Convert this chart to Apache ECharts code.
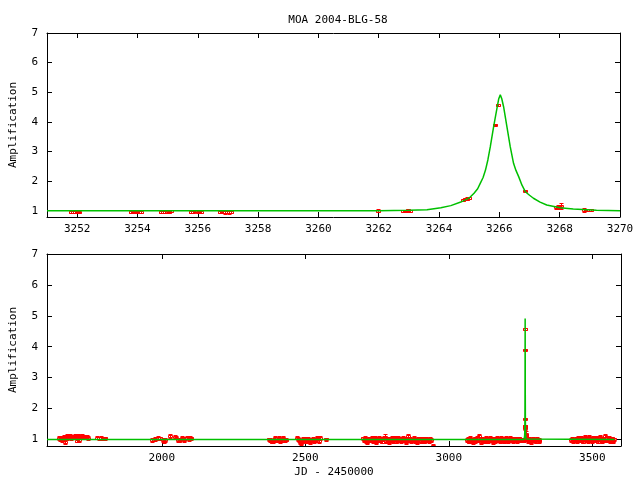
<!DOCTYPE html>
<html>
<head>
<meta charset="utf-8">
<script src="https://cdn.jsdelivr.net/npm/echarts@6/dist/echarts.min.js"></script>
<style>html,body{margin:0;padding:0;background:#fff}#c{width:640px;height:480px}</style>
</head>
<body>
<div id="c"></div>
<script>
// ---------- data ----------
var titleText = 'MOA 2004-BLG-58';
var xLabel = 'JD - 2450000';
var yLabel = 'Amplification';
var topXTicks = [3252, 3254, 3256, 3258, 3260, 3262, 3264, 3266, 3268, 3270];
var bottomXTicks = [2000, 2500, 3000, 3500];
var yTicks = [1, 2, 3, 4, 5, 6, 7];

// model light curve [JD, A]
var modelT = [3251, 3262, 3263, 3263.6, 3264.06, 3264.39, 3264.72, 3265.0, 3265.16, 3265.28, 3265.37, 3265.46, 3265.54, 3265.62, 3265.70, 3265.81, 3265.93, 3265.98, 3266.03, 3266.08, 3266.14, 3266.25, 3266.36, 3266.47, 3266.55, 3266.64, 3266.75, 3266.86, 3267.0, 3267.13, 3267.35, 3267.57, 3268.01, 3268.45, 3269.22, 3270];
var modelA = [1.00, 1.00, 1.01, 1.03, 1.10, 1.17, 1.29, 1.43, 1.59, 1.74, 1.93, 2.12, 2.37, 2.72, 3.16, 3.84, 4.51, 4.78, 4.91, 4.78, 4.51, 3.84, 3.16, 2.60, 2.36, 2.15, 1.86, 1.64, 1.52, 1.42, 1.29, 1.19, 1.10, 1.06, 1.01, 1.00];
var baselineStart = [1600, 1.00];
var baselineEnd = [3577, 1.00];

// 2004 event data [JD, A, err]
var eventPts = [
 [3251.78,0.96,0.04],[3251.85,0.97,0.04],[3251.92,0.97,0.05],[3251.98,0.98,0.04],[3252.03,0.97,0.05],[3252.07,0.97,0.04],
 [3253.80,0.96,0.04],[3253.87,0.97,0.04],[3253.93,0.97,0.05],[3254.00,0.98,0.05],[3254.06,0.97,0.04],[3254.11,0.97,0.04],
 [3254.78,0.95,0.04],[3254.85,0.96,0.04],[3254.92,0.97,0.04],[3255.00,0.98,0.05],[3255.05,0.97,0.04],[3255.10,0.98,0.04],
 [3255.78,0.96,0.04],[3255.85,0.97,0.04],[3255.92,0.98,0.04],[3256.00,0.97,0.04],[3256.04,0.98,0.05],[3256.09,0.97,0.04],
 [3256.75,0.96,0.04],[3256.82,0.95,0.04],[3256.90,0.94,0.04],[3256.97,0.95,0.04],[3257.03,0.94,0.04],[3257.10,0.95,0.04],
 [3261.98,1.00,0.04],
 [3262.82,1.00,0.03],[3262.90,1.00,0.03],[3262.98,1.01,0.03],[3263.05,1.00,0.03],
 [3264.78,1.36,0.04],[3264.85,1.39,0.04],[3264.92,1.41,0.04],[3264.98,1.43,0.04],
 [3265.86,3.90,0.02],[3265.96,4.57,0.02],
 [3266.85,1.67,0.02],
 [3267.88,1.11,0.05],[3267.95,1.12,0.06],[3268.00,1.10,0.05],[3268.05,1.16,0.10],
 [3268.82,1.02,0.08],[3268.90,1.03,0.04],[3268.97,1.02,0.04],[3269.05,1.02,0.04]
];

// earlier seasons [JD, A, err]
var season2000 = [[1643,1.04,0.06],[1647,1.01,0.06],[1651,1.06,0.06],[1654,0.97,0.07],[1657,1.05,0.06],[1660,1.08,0.06],[1663,0.93,0.07],[1665,1.07,0.06],[1668,1.10,0.06],[1671,1.04,0.06],[1673,1.09,0.05],[1676,1.06,0.06],[1679,1.11,0.06],[1682,1.07,0.05],[1685,1.03,0.06],[1687,1.08,0.06],[1690,1.05,0.05],[1693,1.09,0.06],[1696,1.12,0.06],[1698,1.07,0.05],[1701,1.10,0.06],[1704,0.96,0.06],[1706,1.08,0.05],[1709,1.13,0.06],[1711,1.06,0.06],[1713,0.98,0.06],[1716,1.10,0.05],[1719,1.08,0.06],[1721,1.12,0.06],[1724,1.05,0.05],[1727,1.09,0.06],[1730,1.07,0.06],[1733,1.10,0.05],[1736,1.06,0.06],[1739,1.08,0.06],[1742,1.05,0.06],
 [1775,1.06,0.06],[1780,1.04,0.05],[1789,1.05,0.06],[1797,1.03,0.06],[1802,1.04,0.05]];
var season2001 = [[1967,0.99,0.06],[1975,1.01,0.06],[1986,1.05,0.06],[1993,1.04,0.05],[2003,0.97,0.06],[2008,0.95,0.06],[2012,0.98,0.05],[2027,1.11,0.06],[2047,1.08,0.06],[2051,1.06,0.06],[2056,0.98,0.06],[2060,0.96,0.06],[2064,1.00,0.05],[2071,1.04,0.06],[2076,0.98,0.06],[2082,1.03,0.06],[2088,1.05,0.05],[2094,1.02,0.06],[2099,1.06,0.06],[2102,1.03,0.05]];
var season2002 = [[2372,1.00,0.06],[2376,0.98,0.06],[2380,0.97,0.05],[2384,0.93,0.06],[2388,0.95,0.06],[2392,0.97,0.06],[2396,1.04,0.06],[2400,0.96,0.06],[2404,0.99,0.05],[2408,1.05,0.06],[2412,0.94,0.06],[2416,0.97,0.06],[2420,0.95,0.05],[2424,1.04,0.06],[2428,0.98,0.06],[2432,0.99,0.05],
 [2472,1.06,0.06],[2475,1.02,0.06],[2478,0.98,0.06],[2482,0.92,0.07],[2485,0.88,0.06],[2488,0.95,0.06],[2492,1.01,0.06],[2495,0.96,0.05],[2499,1.02,0.06],[2502,0.93,0.06],[2506,0.98,0.06],[2510,1.02,0.05],[2513,0.95,0.06],[2517,0.92,0.06],[2520,0.99,0.06],[2524,0.96,0.05],[2528,1.01,0.06],[2532,0.94,0.06],[2536,0.97,0.06],[2540,1.05,0.06],[2544,1.02,0.05],[2548,0.95,0.06],[2552,1.04,0.06],[2572,1.01,0.05]];
var season2003 = [[2701,1.03,0.06],[2704,0.97,0.06],[2707,1.05,0.06],[2710,0.95,0.06],[2713,1.00,0.06],[2716,0.92,0.06],[2720,0.98,0.06],[2723,1.03,0.06],[2726,0.96,0.06],[2730,1.00,0.06],[2733,1.06,0.06],[2736,0.94,0.06],[2740,0.99,0.06],[2743,1.04,0.06],[2746,0.91,0.06],[2750,1.01,0.06],[2753,0.96,0.06],[2757,1.04,0.06],[2760,0.97,0.06],[2764,1.02,0.06],[2767,0.93,0.06],[2771,1.00,0.06],[2774,1.05,0.06],[2777,1.08,0.09],[2781,0.95,0.06],[2784,1.01,0.06],[2788,0.97,0.06],[2791,0.90,0.06],[2795,1.03,0.06],[2798,0.98,0.06],[2802,1.04,0.06],[2806,0.95,0.06],[2809,1.00,0.06],[2813,1.06,0.06],[2816,0.93,0.06],[2820,0.99,0.06],[2823,1.04,0.06],[2827,0.96,0.06],[2830,1.02,0.06],[2834,0.94,0.06],[2837,1.00,0.06],[2841,1.05,0.06],[2844,0.97,0.06],[2848,1.03,0.06],[2851,0.92,0.06],[2855,0.99,0.06],[2858,1.10,0.09],[2862,0.96,0.06],[2865,1.02,0.06],[2869,0.94,0.06],[2872,1.00,0.06],[2876,0.97,0.06],[2879,1.04,0.06],[2883,0.95,0.06],[2886,0.99,0.06],[2890,0.92,0.06],[2893,1.01,0.06],[2897,0.96,0.06],[2900,1.03,0.06],[2904,0.94,0.06],[2907,0.99,0.06],[2911,1.02,0.06],[2914,0.93,0.06],[2918,0.98,0.06],[2921,1.03,0.06],[2925,0.96,0.06],[2928,1.00,0.06],[2932,0.95,0.06],[2935,1.02,0.06],[2939,0.97,0.06],[2946,0.80,0.05]];
var season2004 = [[3063,0.97,0.06],[3066,1.02,0.06],[3069,0.93,0.06],[3072,0.99,0.06],[3075,1.04,0.06],[3078,0.95,0.06],[3081,1.00,0.06],[3084,0.91,0.06],[3087,0.97,0.06],[3090,1.03,0.06],[3093,0.94,0.06],[3096,0.99,0.06],[3099,1.05,0.06],[3103,0.96,0.06],[3105,1.10,0.09],[3108,1.01,0.06],[3111,0.92,0.06],[3114,0.98,0.06],[3117,1.03,0.06],[3120,0.95,0.06],[3123,1.00,0.06],[3126,0.93,0.06],[3129,1.04,0.06],[3132,0.97,0.06],[3135,1.01,0.06],[3138,0.94,0.06],[3141,0.99,0.06],[3144,1.05,0.06],[3147,0.96,0.06],[3150,1.02,0.06],[3153,0.92,0.06],[3156,0.98,0.06],[3159,1.03,0.06],[3162,0.95,0.06],[3165,1.00,0.06],[3168,1.06,0.06],[3171,0.97,0.06],[3174,1.01,0.06],[3177,0.94,0.06],[3180,0.99,0.06],[3183,1.04,0.06],[3186,0.96,0.06],[3189,1.02,0.06],[3192,0.93,0.06],[3195,0.98,0.06],[3198,1.05,0.06],[3201,0.97,0.06],[3204,1.01,0.06],[3207,0.95,0.06],[3210,1.00,0.06],[3213,1.04,0.06],[3216,0.96,0.06],[3219,0.99,0.06],[3222,1.03,0.06],[3225,0.94,0.06],[3228,1.00,0.06],[3231,0.97,0.06],[3234,1.02,0.06],[3237,0.95,0.06],[3240,1.01,0.06],[3243,0.98,0.06],[3246,1.03,0.06],[3249,0.96,0.06],
 [3272,1.00,0.06],[3276,0.95,0.06],[3279,1.02,0.06],[3283,0.97,0.06],[3287,0.92,0.06],[3290,0.99,0.06],[3294,1.03,0.06],[3297,0.96,0.06],[3301,0.98,0.06],[3305,0.93,0.06],[3309,1.01,0.06],[3313,0.97,0.06],[3316,0.94,0.06]];
var season2005 = [[3427,0.98,0.06],[3430,1.02,0.06],[3433,0.95,0.06],[3436,1.00,0.06],[3439,0.97,0.06],[3442,1.03,0.06],[3445,0.94,0.06],[3448,0.99,0.06],[3451,1.05,0.06],[3454,0.96,0.06],[3457,1.01,0.06],[3460,1.06,0.06],[3463,0.97,0.06],[3466,1.02,0.06],[3469,0.93,0.06],[3472,1.00,0.06],[3475,1.07,0.06],[3478,0.98,0.06],[3481,1.03,0.06],[3484,0.95,0.06],[3487,1.01,0.06],[3490,1.08,0.06],[3493,0.97,0.06],[3496,1.02,0.06],[3499,0.94,0.06],[3502,1.04,0.06],[3505,0.99,0.06],[3508,1.06,0.06],[3511,0.96,0.06],[3514,1.01,0.06],[3517,1.05,0.06],[3520,0.93,0.06],[3523,1.00,0.06],[3526,1.07,0.06],[3529,0.97,0.06],[3532,1.03,0.06],[3535,0.95,0.06],[3538,1.02,0.06],[3541,0.98,0.06],[3545,1.10,0.09],[3548,0.96,0.06],[3551,1.04,0.06],[3554,0.99,0.06],[3557,1.06,0.06],[3560,0.94,0.06],[3563,1.01,0.06],[3566,0.97,0.06],[3569,1.03,0.06],[3572,0.95,0.06],[3575,1.00,0.06]];

// ---------- build ----------
var RED = '#ff0000', GREEN = '#00c000', FONT = 'DejaVu Sans Mono';
var modelData = modelT.map(function (t, i) { return [t, modelA[i]]; });
var modelAll = [baselineStart].concat(modelData, [baselineEnd]);
var allPts = [].concat(season2000, season2001, season2002, season2003, season2004, eventPts, season2005);

function renderErr(params, api) {
  var x = api.value(0), y = api.value(1), e = api.value(2);
  var p = api.coord([x, y]);
  var hi = api.coord([x, y + e]);
  var lo = api.coord([x, y - e]);
  var cx = Math.round(p[0]) + 0.5, cy = Math.round(p[1]);
  var yh = Math.round(hi[1]) + 0.5, yl = Math.round(lo[1]) + 0.5;
  var st = { stroke: RED, lineWidth: 1, fill: null };
  return {
    type: 'group',
    children: [
      { type: 'line', shape: { x1: cx, y1: yh, x2: cx, y2: yl }, style: st },
      { type: 'line', shape: { x1: cx - 2, y1: yh, x2: cx + 2, y2: yh }, style: st },
      { type: 'line', shape: { x1: cx - 2, y1: yl, x2: cx + 2, y2: yl }, style: st },
      { type: 'rect', shape: { x: cx - 2, y: cy - 1 + 0.5, width: 4, height: 2 }, style: st }
    ]
  };
}

var lblStyle = { color: '#000', fontFamily: FONT, fontSize: 11 };
function xAx(grid, min, max, ticks, pos, labels, name) {
  var o = {
    type: 'value', gridIndex: grid, min: min, max: max, position: pos,
    axisLine: { show: true, onZero: false, lineStyle: { color: '#000', width: 1 } },
    axisTick: { show: true, inside: true, length: 5, customValues: ticks, lineStyle: { color: '#000' } },
    axisLabel: { show: labels, customValues: ticks, margin: 7, formatter: function (v) { return String(v); } },
    splitLine: { show: false }
  };
  Object.assign(o.axisLabel, lblStyle);
  if (name) {
    o.name = name; o.nameLocation = 'middle'; o.nameGap = 21;
    o.nameTextStyle = { color: '#000', fontFamily: FONT, fontSize: 11 };
  }
  return o;
}
function yAx(grid, pos, labels, name) {
  var o = {
    type: 'value', gridIndex: grid, min: 0.786, max: 7, position: pos,
    axisLine: { show: true, onZero: false, lineStyle: { color: '#000', width: 1 } },
    axisTick: { show: true, inside: true, length: 5, customValues: yTicks, lineStyle: { color: '#000' } },
    axisLabel: { show: labels, customValues: yTicks, margin: 9, formatter: function (v) { return String(v); } },
    splitLine: { show: false }
  };
  Object.assign(o.axisLabel, lblStyle);
  if (name) {
    o.name = name; o.nameLocation = 'middle'; o.nameGap = 28;
    o.nameTextStyle = { color: '#000', fontFamily: FONT, fontSize: 11 };
  }
  return o;
}

var chart = echarts.init(document.getElementById('c'), null, { renderer: 'canvas' });
chart.setOption({
  animation: false,
  backgroundColor: '#fff',
  title: {
    text: titleText, left: 333, top: 10, textAlign: 'center',
    textStyle: { color: '#000', fontFamily: FONT, fontSize: 11, fontWeight: 'normal' }
  },
  grid: [
    { left: 44, right: 20, top: 33, height: 184 },
    { left: 44, right: 19, top: 254, height: 192 }
  ],
  xAxis: [
    xAx(0, 3251, 3270, topXTicks, 'bottom', true),
    xAx(0, 3251, 3270, topXTicks, 'top', false),
    xAx(1, 1600, 3600, bottomXTicks, 'bottom', true, xLabel),
    xAx(1, 1600, 3600, bottomXTicks, 'top', false)
  ],
  yAxis: [
    yAx(0, 'left', true, yLabel),
    yAx(0, 'right', false),
    yAx(1, 'left', true, yLabel),
    yAx(1, 'right', false)
  ],
  series: [
    { type: 'custom', xAxisIndex: 0, yAxisIndex: 0, data: eventPts, renderItem: renderErr, clip: true, z: 2 },
    { type: 'line', xAxisIndex: 0, yAxisIndex: 0, data: modelData, showSymbol: false, symbol: 'none',
      lineStyle: { color: GREEN, width: 1.5 }, z: 3, clip: true },
    { type: 'custom', xAxisIndex: 2, yAxisIndex: 2, data: allPts, renderItem: renderErr, clip: true, z: 2 },
    { type: 'line', xAxisIndex: 2, yAxisIndex: 2, data: modelAll, showSymbol: false, symbol: 'none',
      lineStyle: { color: GREEN, width: 1.5 }, z: 3, clip: true }
  ]
});
</script>
</body>
</html>
